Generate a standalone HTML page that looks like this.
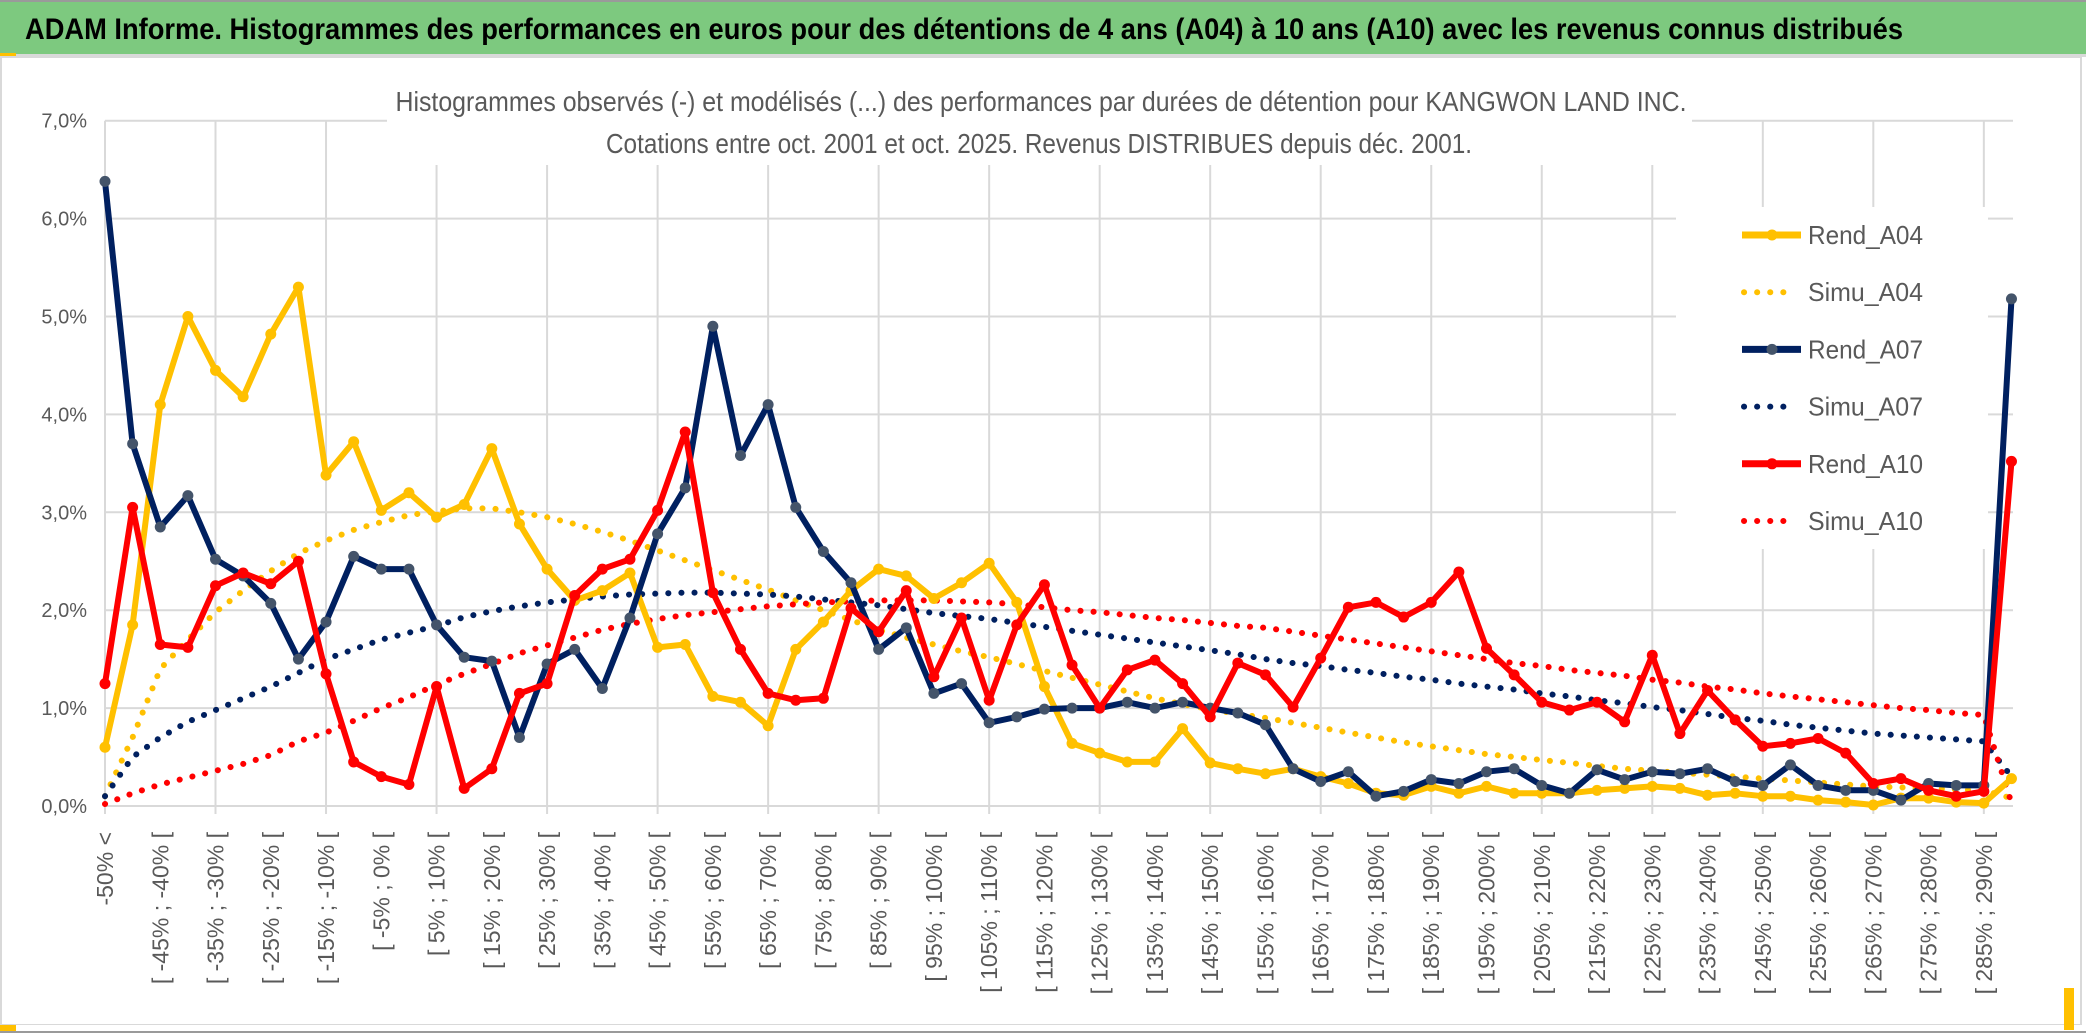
<!DOCTYPE html>
<html><head><meta charset="utf-8"><style>
html,body{margin:0;padding:0;background:#fff;}
svg{display:block;font-family:"Liberation Sans",sans-serif;}
</style></head><body>
<svg id="chart" width="2086" height="1033" viewBox="0 0 2086 1033" xmlns="http://www.w3.org/2000/svg">
<rect x="0" y="0" width="2086" height="1033" fill="#fff"/>
<rect x="0" y="0" width="2086" height="2" fill="#9a9a9a"/>
<rect x="0" y="2" width="2086" height="52" fill="#7dc97f"/>
<rect x="0" y="54" width="2086" height="3" fill="#d9d9d9"/>
<rect x="0" y="53" width="16" height="4" fill="#ffc000"/>
<text x="25" y="39" font-size="30" font-weight="bold" fill="#000" textLength="1878" lengthAdjust="spacingAndGlyphs">ADAM Informe. Histogrammes des performances en euros pour des détentions de 4 ans (A04) à 10 ans (A10) avec les revenus connus distribués</text>
<rect x="1" y="57" width="2080" height="968" fill="none" stroke="#d9d9d9" stroke-width="2"/>
<rect x="0" y="1025" width="2086" height="8" fill="#fff"/>
<rect x="0" y="1025" width="16" height="6" fill="#ffc000"/>
<rect x="2064" y="988" width="10" height="42" fill="#ffc000"/>
<rect x="0" y="1031" width="2086" height="2" fill="#9a9a9a"/>
<g id="grid"></g>
<rect x="387" y="78" width="1305" height="87" fill="#fff"/>
<text x="1041" y="111" text-anchor="middle" font-size="28" fill="#595959" textLength="1291" lengthAdjust="spacingAndGlyphs">Histogrammes observés (-) et modélisés (...) des performances par durées de détention pour KANGWON LAND INC.</text>
<text x="1039" y="153" text-anchor="middle" font-size="28" fill="#595959" textLength="866" lengthAdjust="spacingAndGlyphs">Cotations entre oct. 2001 et oct. 2025. Revenus DISTRIBUES depuis déc. 2001.</text>
<g id="yaxis"></g>
<g id="xaxis"></g>
<g id="legend"></g>
<g id="series"></g>
</svg>
<script>
const yTicks = [0,1,2,3,4,5,6,7];
const rendA04 = [0.6,1.85,4.1,5.0,4.45,4.18,4.82,5.3,3.38,3.72,3.02,3.2,2.95,3.08,3.65,2.88,2.42,2.1,2.2,2.38,1.62,1.65,1.12,1.06,0.82,1.6,1.88,2.2,2.42,2.35,2.12,2.28,2.48,2.08,1.22,0.64,0.54,0.45,0.45,0.79,0.44,0.38,0.33,0.38,0.3,0.23,0.13,0.11,0.2,0.13,0.2,0.13,0.13,0.13,0.16,0.18,0.2,0.18,0.11,0.13,0.1,0.1,0.06,0.04,0.01,0.08,0.08,0.04,0.03,0.28];
const rendA07 = [6.38,3.7,2.85,3.17,2.52,2.35,2.07,1.5,1.88,2.55,2.42,2.42,1.85,1.52,1.48,0.7,1.45,1.6,1.2,1.92,2.78,3.25,4.9,3.58,4.1,3.05,2.6,2.28,1.6,1.82,1.15,1.25,0.85,0.91,0.99,1.0,1.0,1.06,1.0,1.06,1.0,0.95,0.83,0.38,0.25,0.35,0.1,0.15,0.27,0.23,0.35,0.38,0.21,0.13,0.37,0.27,0.35,0.33,0.38,0.25,0.21,0.42,0.21,0.16,0.16,0.06,0.23,0.21,0.21,5.18];
const rendA10 = [1.25,3.05,1.65,1.62,2.25,2.38,2.27,2.5,1.35,0.45,0.3,0.22,1.22,0.18,0.38,1.15,1.25,2.15,2.42,2.52,3.02,3.82,2.18,1.6,1.15,1.08,1.1,2.02,1.78,2.2,1.32,1.92,1.08,1.85,2.26,1.44,1.0,1.39,1.49,1.25,0.91,1.46,1.34,1.01,1.51,2.03,2.08,1.93,2.08,2.39,1.61,1.34,1.06,0.98,1.06,0.86,1.54,0.74,1.18,0.88,0.61,0.64,0.69,0.54,0.23,0.28,0.16,0.1,0.15,3.52];
const simuA04 = [0.1,0.7,1.4,1.7,1.98,2.2,2.4,2.58,2.71,2.82,2.9,2.97,3.01,3.04,3.04,3.0,2.95,2.88,2.8,2.71,2.61,2.51,2.41,2.31,2.21,2.1,2.0,1.9,1.8,1.72,1.65,1.58,1.52,1.45,1.38,1.31,1.24,1.17,1.1,1.04,0.99,0.94,0.9,0.85,0.8,0.75,0.7,0.65,0.61,0.57,0.53,0.5,0.47,0.44,0.41,0.38,0.36,0.34,0.32,0.3,0.28,0.26,0.24,0.22,0.2,0.19,0.18,0.17,0.16,0.08];
const simuA07 = [0.1,0.5,0.7,0.86,0.98,1.1,1.22,1.36,1.5,1.6,1.7,1.77,1.84,1.93,1.99,2.04,2.08,2.11,2.14,2.16,2.17,2.18,2.18,2.17,2.16,2.14,2.11,2.08,2.05,2.01,1.97,1.94,1.91,1.87,1.83,1.79,1.75,1.71,1.67,1.63,1.59,1.55,1.5,1.46,1.43,1.39,1.36,1.32,1.29,1.25,1.22,1.19,1.15,1.12,1.08,1.05,1.01,0.98,0.94,0.9,0.87,0.83,0.8,0.77,0.74,0.72,0.7,0.68,0.66,0.3];
const simuA10 = [0.02,0.13,0.22,0.29,0.36,0.43,0.52,0.66,0.75,0.87,1.0,1.11,1.24,1.35,1.45,1.56,1.64,1.72,1.8,1.86,1.91,1.95,1.98,2.01,2.04,2.06,2.08,2.09,2.1,2.1,2.1,2.09,2.08,2.06,2.03,2.0,1.98,1.95,1.92,1.9,1.87,1.84,1.82,1.78,1.74,1.7,1.66,1.62,1.58,1.54,1.5,1.46,1.43,1.39,1.36,1.33,1.29,1.26,1.22,1.19,1.15,1.12,1.09,1.06,1.03,1.0,0.98,0.95,0.93,0.03];
const categories = ["-50% <"];
for (let b = -50; b < 290; b += 5) categories.push("[ " + b + "% ; " + (b + 5) + "% [");
categories.push("290% >");

const NS = "http://www.w3.org/2000/svg";
const X0 = 105, DX = 27.63, Y0 = 806, DY = 97.9, XR = 2013;
function xs(i){ return X0 + i * DX; }
function ys(v){ return Y0 - v * DY; }
function mk(tag, attrs, parent){ const e = document.createElementNS(NS, tag); for (const k in attrs) e.setAttribute(k, attrs[k]); parent.appendChild(e); return e; }

const grid = document.getElementById('grid');
yTicks.forEach(t => {
  const l = mk('line', {x1: X0, x2: XR, y1: ys(t), y2: ys(t), stroke: '#d9d9d9', 'stroke-width': 2}, grid);
  
  
});
for (let i = 0; i < categories.length; i += 4) {
  const l = mk('line', {x1: xs(i), x2: xs(i), y1: ys(7), y2: Y0 + 8, stroke: '#d9d9d9', 'stroke-width': 2}, grid);
  
  
}
const yaxis = document.getElementById('yaxis');
yTicks.forEach(t => {
  const tx = mk('text', {x: 87, y: ys(t) + 7, 'text-anchor': 'end', 'font-size': 20, fill: '#595959'}, yaxis);
  tx.textContent = t.toFixed(1).replace('.', ',') + '%';
  
  
});
const xaxis = document.getElementById('xaxis');
for (let i = 0; i < categories.length - 1; i += 2) {
  const x = xs(i), y = 832;
  const tx = mk('text', {x: x, y: y, 'text-anchor': 'end', 'font-size': 23, fill: '#595959', transform: 'rotate(-90 ' + x + ' ' + y + ')', dy: '8'}, xaxis);
  tx.textContent = categories[i];
  
  
}
const legend = document.getElementById('legend');
const bg = mk('rect', {x: 1676, y: 207, width: 312, height: 342, fill: '#fff'}, legend);


const items = [['Rend_A04','#ffc000',false],['Simu_A04','#ffc000',true],['Rend_A07','#002060',false],['Simu_A07','#002060',true],['Rend_A10','#ff0000',false],['Simu_A10','#ff0000',true]];
items.forEach((it, k) => {
  const y = 235 + k * 57.2;
  const g = mk('g', {}, legend);
  
  
  if (it[2]) {
    mk('line', {x1: 1744, x2: 1792, y1: y, y2: y, stroke: it[1], 'stroke-width': 6, 'stroke-linecap': 'round', 'stroke-dasharray': '0.1 13'}, g);
  } else {
    mk('line', {x1: 1742, x2: 1801, y1: y, y2: y, stroke: it[1], 'stroke-width': 7}, g);
    mk('circle', {cx: 1772, cy: y, r: 5.5, fill: k === 2 ? '#44546a' : it[1]}, g);
  }
  const t = mk('text', {x: 1808, y: y + 9, 'font-size': 26, fill: '#595959', textLength: 115, lengthAdjust: 'spacingAndGlyphs'}, g);
  t.textContent = it[0];
});
function pts(arr){ return arr.map((v, i) => xs(i).toFixed(1) + ',' + ys(v).toFixed(1)).join(' '); }
const series = document.getElementById('series');
function dotted(arr, color, name){
  const p = mk('polyline', {points: pts(arr), fill: 'none', stroke: color, 'stroke-width': 6, 'stroke-linecap': 'round', 'stroke-dasharray': '0.1 13'}, series);
  
  
}
function solid(arr, color, mcolor, name){
  const g = mk('g', {}, series);
  
  
  mk('polyline', {points: pts(arr), fill: 'none', stroke: color, 'stroke-width': 6, 'stroke-linejoin': 'round'}, g);
  arr.forEach((v, i) => {
    const c = mk('circle', {cx: xs(i), cy: ys(v), r: 5.5, fill: mcolor}, g);
    
    
  });
}
dotted(simuA04, '#ffc000', 'simu-a04-line');
dotted(simuA07, '#002060', 'simu-a07-line');
dotted(simuA10, '#ff0000', 'simu-a10-line');
solid(rendA04, '#ffc000', '#ffc000', 'rend-a04-line');
solid(rendA07, '#002060', '#44546a', 'rend-a07-line');
solid(rendA10, '#ff0000', '#ff0000', 'rend-a10-line');
</script>
</body></html>
